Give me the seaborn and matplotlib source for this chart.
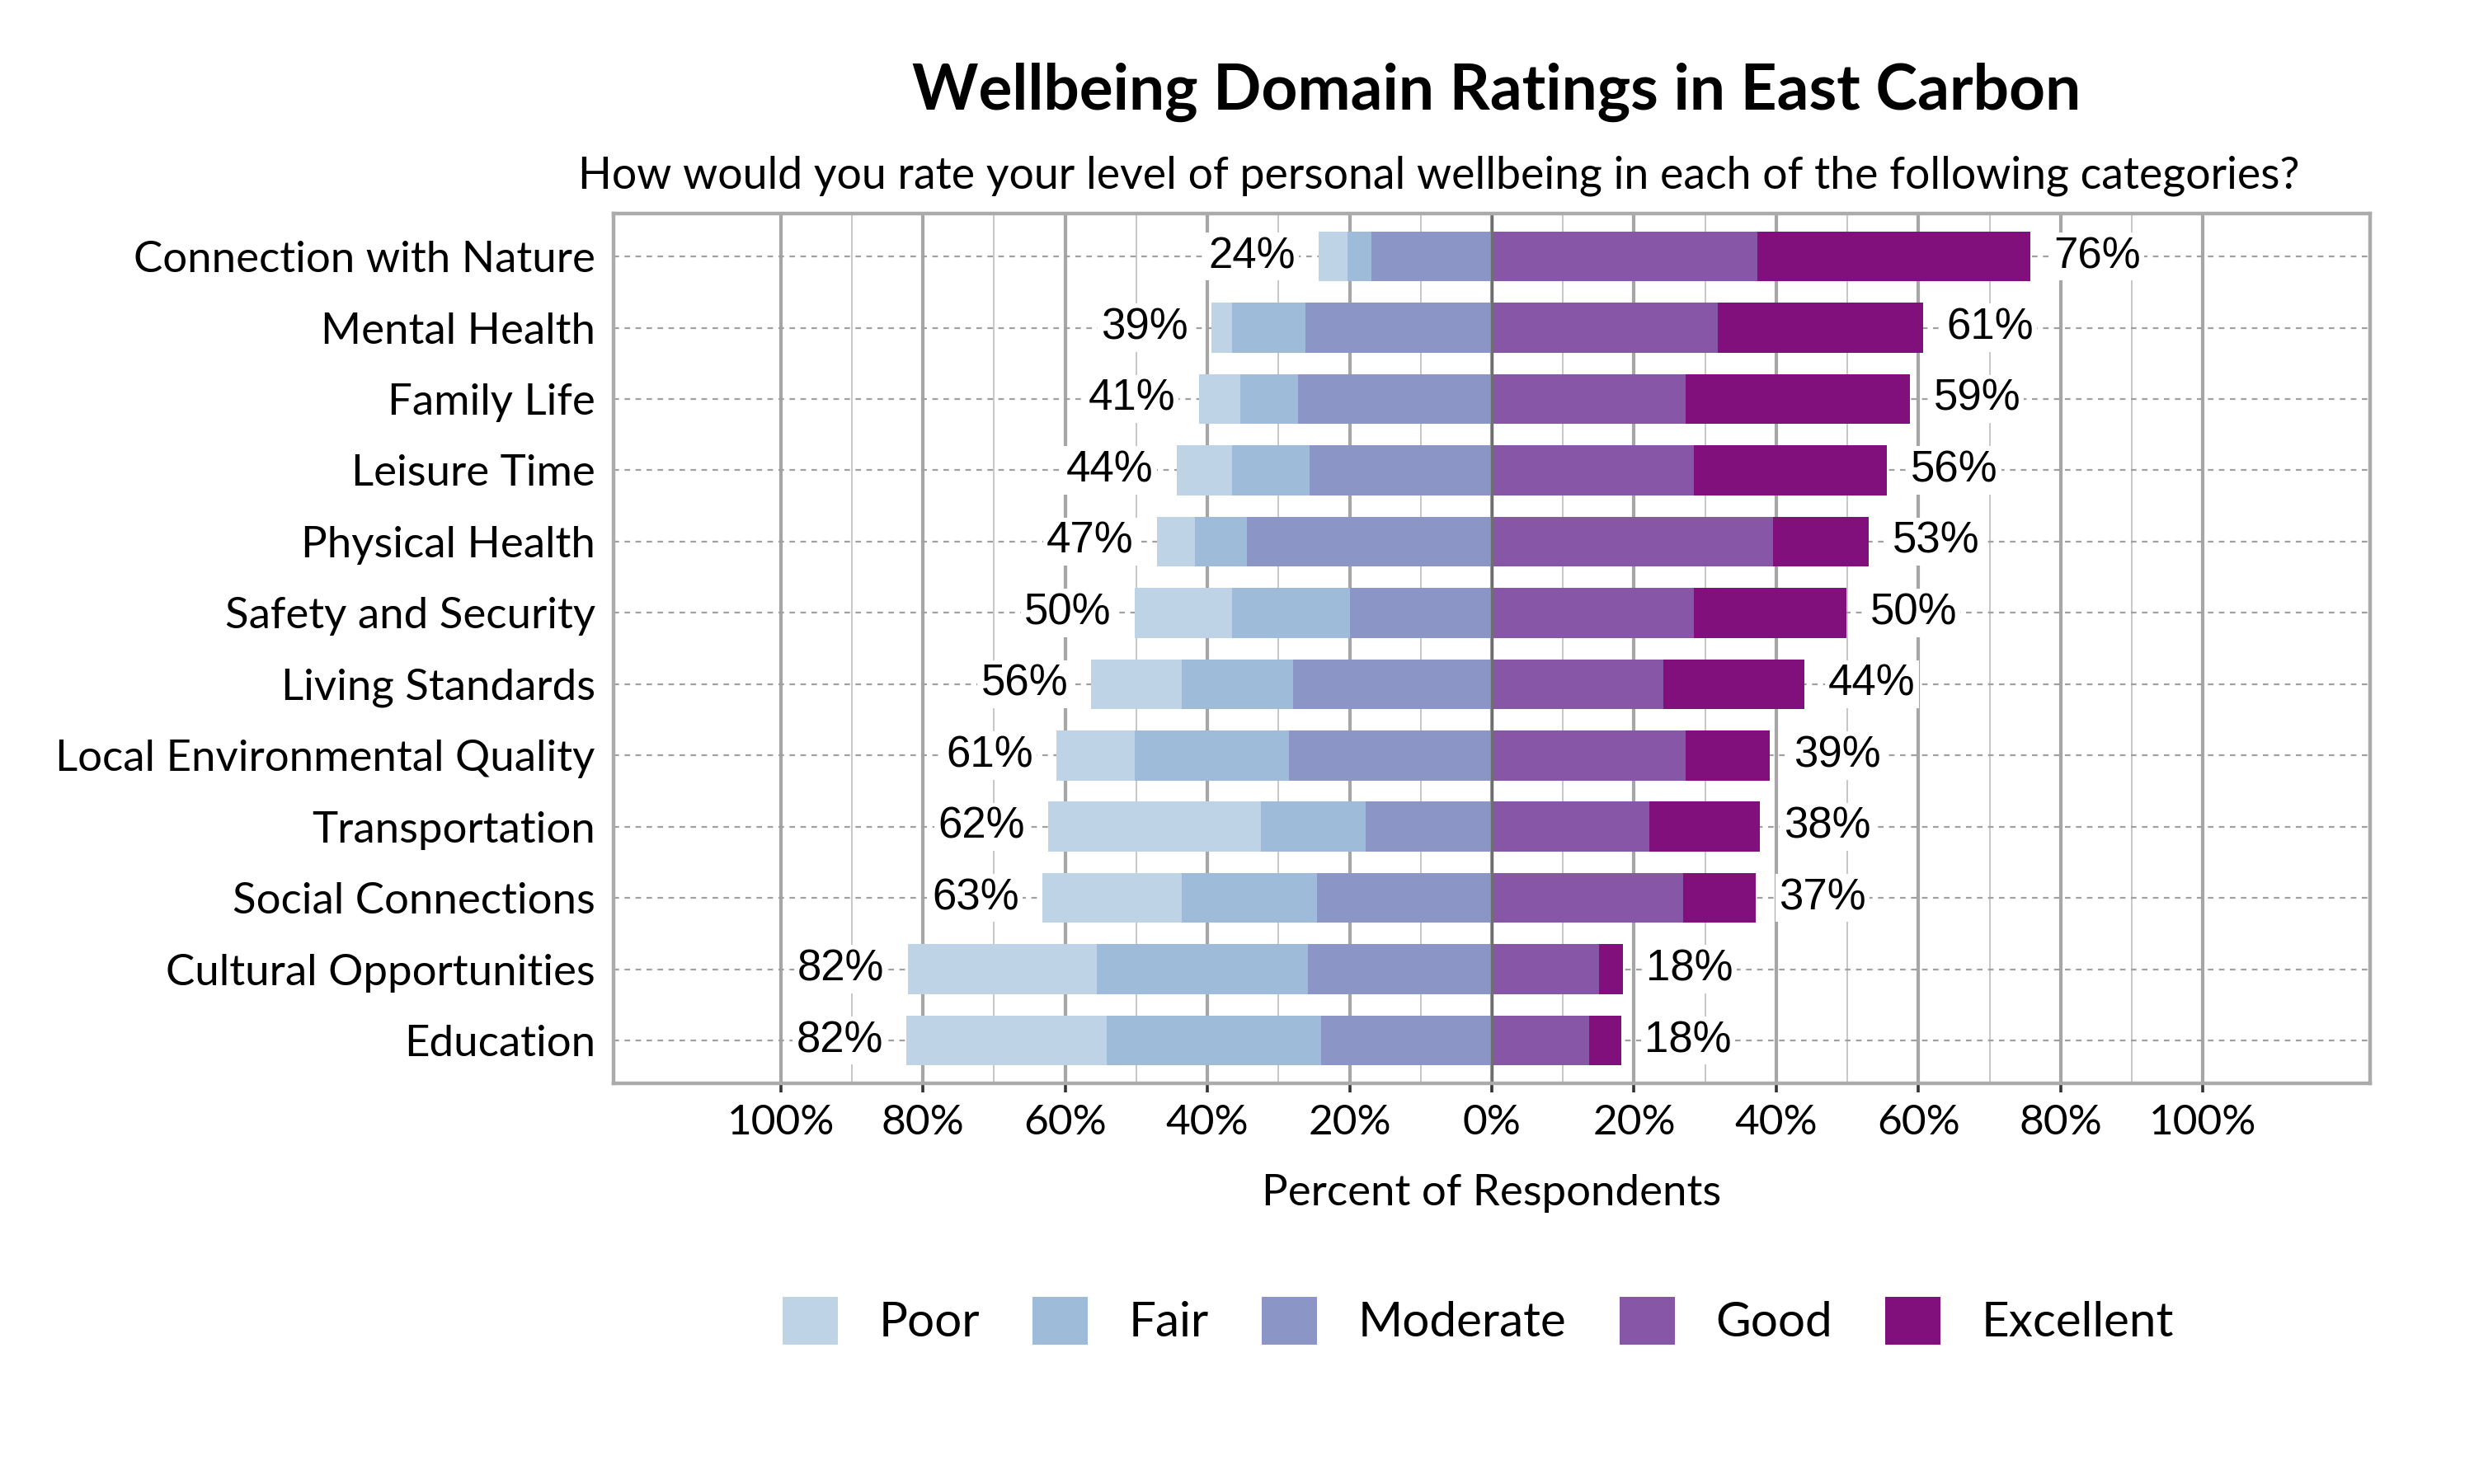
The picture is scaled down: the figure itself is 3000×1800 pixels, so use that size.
import numpy as np
import pandas as pd
import matplotlib
matplotlib.use('Agg')
import matplotlib.pyplot as plt
from matplotlib.patches import Patch
from matplotlib.ticker import FixedLocator, FuncFormatter
import seaborn as sns

categories = ['Connection with Nature', 'Mental Health', 'Family Life', 'Leisure Time',
              'Physical Health', 'Safety and Security', 'Living Standards',
              'Local Environmental Quality', 'Transportation', 'Social Connections',
              'Cultural Opportunities', 'Education']
poor = [4.0, 2.9, 5.8, 7.8, 5.3, 13.7, 12.7, 11.0, 29.9, 19.6, 26.6, 28.1]
fair = [3.4, 10.3, 8.1, 10.9, 7.4, 16.5, 15.6, 21.7, 14.8, 19.0, 29.6, 30.2]
moderate = [16.9, 26.2, 27.3, 25.6, 34.4, 20.0, 28.0, 28.5, 17.7, 24.6, 25.9, 24.0]
good = [37.3, 31.8, 27.2, 28.4, 39.5, 28.4, 24.1, 27.2, 22.1, 26.9, 15.1, 13.7]
excellent = [38.4, 28.8, 31.6, 27.2, 13.5, 21.5, 19.9, 11.9, 15.6, 10.2, 3.3, 4.5]

levels = ['Poor', 'Fair', 'Moderate', 'Good', 'Excellent']
colors = ['#bfd3e6', '#9ebcda', '#8c96c6', '#8856a7', '#810f7c']

df = pd.DataFrame({'category': categories, 'Poor': poor, 'Fair': fair,
                   'Moderate': moderate, 'Good': good, 'Excellent': excellent})
df['neg3'] = -(df['Poor'] + df['Fair'] + df['Moderate'])
df['neg2'] = -(df['Fair'] + df['Moderate'])
df['neg1'] = -df['Moderate']
df['pos2'] = df['Good'] + df['Excellent']
df['pos1'] = df['Good']

sns.set_theme(style='white')
plt.rcParams['font.family'] = ['Lato', 'DejaVu Sans']
plt.rcParams['text.color'] = 'black'
plt.rcParams['axes.labelcolor'] = 'black'

fig, ax = plt.subplots(figsize=(15, 9), dpi=200)
fig.subplots_adjust(left=0.248, right=0.958, top=0.856, bottom=0.270)

# stacked diverging bars: draw cumulative totals, widest first
for col, c in [('neg3', colors[0]), ('neg2', colors[1]), ('neg1', colors[2]),
               ('pos2', colors[4]), ('pos1', colors[3])]:
    sns.barplot(data=df, x=col, y='category', orient='h', color=c, saturation=1,
                width=0.7, linewidth=0, ax=ax)

ax.set_xlim(-123.5, 123.5)
ax.set_ylim(len(categories) - 0.4, -0.6)

ax.xaxis.set_major_locator(FixedLocator(np.arange(-100, 101, 20)))
ax.xaxis.set_minor_locator(FixedLocator(np.arange(-90, 91, 20)))
ax.xaxis.set_major_formatter(FuncFormatter(lambda v, p: '%d%%' % abs(round(v))))
ax.set_axisbelow(True)
ax.grid(axis='x', which='major', color='#a6a6a6', linewidth=1.5)
ax.grid(axis='x', which='minor', color='#bdbdbd', linewidth=0.6)
ax.grid(axis='y', which='major', color='#a0a0a0', linewidth=0.8, linestyle=(0, (3, 3)))
ax.axvline(0, color='#6e6e6e', linewidth=1.2, zorder=1)

ax.tick_params(axis='x', which='major', direction='out', length=4, width=1.3,
               color='#333333', labelcolor='black', labelsize=18.5, pad=5, bottom=True)
ax.tick_params(axis='x', which='minor', length=0)
ax.tick_params(axis='y', length=0, labelsize=19, labelcolor='black', pad=8)
for s in ax.spines.values():
    s.set_color('#ababab')
    s.set_linewidth(1.6)

ax.set_ylabel('')
ax.set_xlabel('Percent of Respondents', fontsize=19, labelpad=14)

# total labels
lab_box = dict(facecolor='white', edgecolor='none', pad=1.5)
for i in range(len(categories)):
    lt = -df['neg3'][i]
    rt = df['pos2'][i]
    ax.text(-lt - 3.3, i, '%d%%' % round(lt), ha='right', va='center', fontsize=19,
            family='Liberation Sans', bbox=lab_box, zorder=4)
    ax.text(rt + 3.3, i, '%d%%' % round(rt), ha='left', va='center', fontsize=19,
            family='Liberation Sans', bbox=lab_box, zorder=4)

fig.text(0.605, 0.926, 'Wellbeing Domain Ratings in East Carbon', ha='center',
         va='baseline', fontsize=27.6, fontweight='bold')
fig.text(0.5815, 0.873, 'How would you rate your level of personal wellbeing in each of the following categories?',
         ha='center', va='baseline', fontsize=19.3)

handles = [Patch(facecolor=c, edgecolor='none', label=l) for l, c in zip(levels, colors)]
fig.legend(handles=handles, loc='center', bbox_to_anchor=(0.5975, 0.11), ncol=5,
           frameon=False, fontsize=21, handlelength=1.15, handleheight=1.15,
           handletextpad=0.85, columnspacing=1.1)

plt.savefig('out.png', dpi=200)
